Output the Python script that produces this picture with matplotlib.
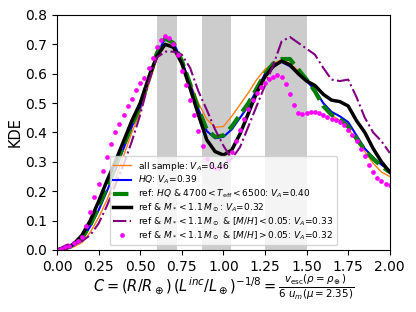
import matplotlib
matplotlib.use("Agg")
import matplotlib.pyplot as plt
import numpy as np

# x grid (at 0.05 steps)
x = [0.00, 0.05, 0.10, 0.15, 0.20, 0.25, 0.30, 0.35, 0.40, 0.45,
     0.50, 0.55, 0.60, 0.65, 0.70, 0.75, 0.80, 0.85, 0.90, 0.95,
     1.00, 1.05, 1.10, 1.15, 1.20, 1.25, 1.30, 1.35, 1.40, 1.45,
     1.50, 1.55, 1.60, 1.65, 1.70, 1.75, 1.80, 1.85, 1.90, 1.95, 2.00]

all_sample = [0.0, 0.003, 0.01, 0.025, 0.06, 0.11, 0.17, 0.24, 0.32, 0.40,
              0.47, 0.56, 0.65, 0.70, 0.70, 0.645, 0.57, 0.50, 0.445, 0.418,
              0.42, 0.455, 0.495, 0.535, 0.58, 0.615, 0.635, 0.648, 0.635, 0.61,
              0.585, 0.545, 0.50, 0.46, 0.44, 0.415, 0.37, 0.335, 0.295, 0.265, 0.25]

hq = [0.0, 0.005, 0.015, 0.035, 0.08, 0.135, 0.20, 0.27, 0.345, 0.42,
      0.485, 0.575, 0.665, 0.72, 0.705, 0.645, 0.565, 0.48, 0.405, 0.38,
      0.385, 0.41, 0.45, 0.49, 0.545, 0.60, 0.63, 0.64, 0.625, 0.60,
      0.575, 0.545, 0.50, 0.47, 0.455, 0.435, 0.39, 0.345, 0.315, 0.29, 0.27]

ref_teff = [0.0, 0.005, 0.015, 0.04, 0.085, 0.145, 0.215, 0.285, 0.355, 0.425,
            0.49, 0.58, 0.67, 0.72, 0.705, 0.645, 0.565, 0.48, 0.41, 0.385,
            0.39, 0.42, 0.46, 0.50, 0.55, 0.60, 0.635, 0.65, 0.65, 0.615,
            0.58, 0.54, 0.49, 0.46, 0.445, 0.42, 0.38, 0.34, 0.31, 0.285, 0.265]

ref_mass = [0.0, 0.005, 0.02, 0.05, 0.10, 0.165, 0.235, 0.30, 0.37, 0.44,
            0.50, 0.585, 0.66, 0.70, 0.69, 0.635, 0.55, 0.46, 0.375, 0.335,
            0.323, 0.34, 0.395, 0.465, 0.535, 0.59, 0.625, 0.643, 0.63, 0.60,
            0.575, 0.56, 0.53, 0.51, 0.505, 0.49, 0.44, 0.40, 0.345, 0.30, 0.265]

ref_mass_lowmh = [0.0, 0.015, 0.025, 0.03, 0.05, 0.09, 0.15, 0.22, 0.29, 0.37,
                  0.46, 0.57, 0.655, 0.675, 0.675, 0.665, 0.62, 0.54, 0.477, 0.41,
                  0.355, 0.31, 0.35, 0.42, 0.49, 0.56, 0.63, 0.71, 0.725, 0.705,
                  0.685, 0.665, 0.62, 0.58, 0.575, 0.58, 0.52, 0.45, 0.40, 0.37, 0.33]

# magenta series is drawn as markers, read at 0.025 steps
x_fine = [round(0.025 * i, 3) for i in range(81)]
ref_mass_highmh = [
    0.0, 0.004, 0.01, 0.015, 0.022, 0.03, 0.045, 0.08, 0.13, 0.18,
    0.225, 0.27, 0.315, 0.36, 0.40, 0.43, 0.46, 0.49, 0.515, 0.545,
    0.57, 0.585, 0.62, 0.655, 0.69, 0.715, 0.73, 0.72, 0.70, 0.665,
    0.61, 0.56, 0.51, 0.46, 0.405, 0.355, 0.31, 0.29, 0.28, 0.278,
    0.285, 0.305, 0.335, 0.37, 0.41, 0.445, 0.48, 0.51, 0.535, 0.555,
    0.57, 0.583, 0.59, 0.597, 0.59, 0.565, 0.53, 0.495, 0.466, 0.462,
    0.465, 0.47, 0.47, 0.465, 0.458, 0.452, 0.447, 0.442, 0.435, 0.425,
    0.41, 0.39, 0.37, 0.345, 0.32, 0.29, 0.265, 0.245, 0.235, 0.225, 0.22]

bands = [(0.60, 0.72), (0.87, 1.045), (1.25, 1.50)]

labels = [
    r"all sample: $V_A$=0.46",
    r"$HQ$: $V_A$=0.39",
    r"ref: $HQ$ & 4700$<T_{\rm eff}<$6500: $V_A$=0.40",
    r"ref & $M_* < 1.1\,M_\odot$: $V_A$=0.32",
    r"ref & $M_* < 1.1\,M_\odot$ & $[M/H] < 0.05$: $V_A$=0.33",
    r"ref & $M_* < 1.1\,M_\odot$ & $[M/H] > 0.05$: $V_A$=0.32",
]

fig = plt.figure(figsize=(4.16, 3.12), dpi=100)
ax = fig.add_axes([0.137, 0.199, 0.8, 0.753])

for a, b in bands:
    ax.axvspan(a, b, color='0.8', lw=0, zorder=0)

ax.plot(x, all_sample, color='tab:orange', lw=1.0, label=labels[0])
ax.plot(x, hq, color='blue', lw=1.5, label=labels[1])
ax.plot(x, ref_teff, color='green', lw=3.0, ls='--', label=labels[2])
ax.plot(x, ref_mass, color='black', lw=2.5, label=labels[3])
ax.plot(x, ref_mass_lowmh, color='purple', lw=1.5, ls='-.', label=labels[4])
ax.plot(x_fine, ref_mass_highmh, color='magenta', ls='none', marker='o',
        markersize=3.4, markeredgewidth=0, label=labels[5])

ax.set_xlim(0, 2)
ax.set_ylim(0, 0.8)
ax.set_xticks(np.arange(0, 2.01, 0.25))
ax.set_yticks(np.arange(0, 0.81, 0.1))
ax.tick_params(labelsize=10)
ax.set_ylabel("KDE", fontsize=10.5, labelpad=2)
ax.set_xlabel(r"$C=(R/R_\oplus)\,(L^{inc}/L_\oplus)^{-1/8}=\frac{v_{\rm esc}(\rho=\rho_\oplus)}{6\ u_m(\mu=2.35)}$",
              fontsize=10.5, labelpad=-1)
ax.legend(loc='lower center', fontsize=6.5, handlelength=2.0, labelspacing=0.15,
          numpoints=1)

fig.savefig("out.png", dpi=100)
